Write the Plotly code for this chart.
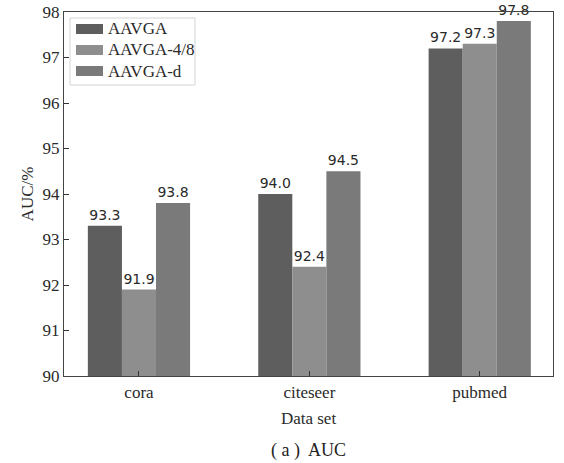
import plotly.graph_objects as go

categories = ["cora", "citeseer", "pubmed"]
series_names = ["AAVGA", "AAVGA-4/8", "AAVGA-d"]
aavga = [93.3, 94.0, 97.2]
aavga_48 = [91.9, 92.4, 97.3]
aavga_d = [93.8, 94.5, 97.8]
colors = ["#5e5e5e", "#8e8e8e", "#7a7a7a"]
y_ticks = [90, 91, 92, 93, 94, 95, 96, 97, 98]

serif = "Liberation Serif, Times New Roman, serif"
W, H = 564, 463
L, R, T, B = 64, 11, 12, 87
pw, ph = W - L - R, H - T - B


def px(x):
    return (x - L) / pw


def py(y):
    return (H - B - y) / ph


fig = go.Figure()
for name, vals, c in zip(series_names, [aavga, aavga_48, aavga_d], colors):
    fig.add_trace(go.Bar(
        x=categories, y=vals, name=name, marker=dict(color=c, line=dict(width=0)),
        texttemplate="%{y:.1f}", textposition="outside", cliponaxis=False,
        textfont=dict(family="DejaVu Sans", size=14, color="#2a2a2a"),
        showlegend=False,
    ))

shapes = []
annotations = []
# legend box
x0, x1, y0, y1 = px(70), px(195), py(85), py(18)
shapes.append(dict(type="rect", xref="paper", yref="paper", x0=x0, x1=x1, y0=y0, y1=y1,
                   line=dict(color="#d4d4d4", width=1), fillcolor="white", layer="above"))
for i, (name, c) in enumerate(zip(series_names, colors)):
    cy = 29 + i * 21
    shapes.append(dict(type="rect", xref="paper", yref="paper",
                       x0=px(76), x1=px(103), y0=py(cy + 5), y1=py(cy - 5),
                       line=dict(width=0), fillcolor=c, layer="above"))
    annotations.append(dict(text=name, x=px(106), y=py(cy), xref="paper", yref="paper",
                            xanchor="left", yanchor="middle", showarrow=False,
                            font=dict(family=serif, size=17, color="#2a2a2a")))

annotations.append(dict(text="( a )  AUC", x=0.5, y=py(450), xref="paper", yref="paper",
                        xanchor="center", yanchor="middle", showarrow=False,
                        font=dict(family=serif, size=18, color="#222222")))

fig.update_layout(
    width=W, height=H,
    margin=dict(l=L, r=R, t=T, b=B),
    paper_bgcolor="white", plot_bgcolor="white",
    barmode="group", bargap=0.4, bargroupgap=0,
    font=dict(family=serif, size=17, color="#2a2a2a"),
    showlegend=False,
    shapes=shapes, annotations=annotations,
)
fig.update_xaxes(
    range=[-0.44, 2.43], showline=True, linecolor="#444444", linewidth=1.2, mirror=True,
    ticks="inside", ticklen=5, tickcolor="#333333", automargin=False,
    title=dict(text="Data set", font=dict(family=serif, size=17), standoff=11),
    tickfont=dict(family=serif, size=17), showgrid=False,
)
fig.update_yaxes(
    range=[90, 98], tickvals=y_ticks, showline=True, linecolor="#444444", linewidth=1.2, mirror=True,
    ticks="inside", ticklen=5, tickcolor="#333333", automargin=False,
    title=dict(text="AUC/%", font=dict(family=serif, size=17), standoff=4),
    tickfont=dict(family=serif, size=17), showgrid=False, zeroline=False,
)
fig.write_html("out.html", config={"displayModeBar": False},
               post_script="document.body.style.margin='0';document.body.style.overflow='hidden';")
